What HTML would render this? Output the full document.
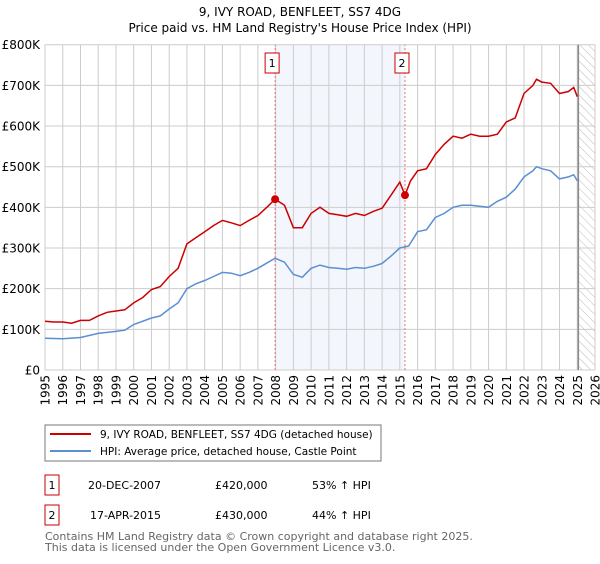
<!DOCTYPE html>
<html><head><meta charset="utf-8"><style>
body{margin:0;background:#fff;font-family:"DejaVu Sans","Liberation Sans",sans-serif;}
svg text{font-family:"DejaVu Sans","Liberation Sans",sans-serif;}
</style></head><body>
<svg id="c" width="600" height="560" xmlns="http://www.w3.org/2000/svg">
<defs><pattern id="hatch" width="6" height="6" patternUnits="userSpaceOnUse" patternTransform="rotate(-45)"><line x1="0" y1="0" x2="0" y2="6" stroke="#bbb" stroke-width="1"/></pattern></defs>
<text x="300" y="16" text-anchor="middle" font-size="12">9, IVY ROAD, BENFLEET, SS7 4DG</text>
<text x="300" y="32" text-anchor="middle" font-size="12">Price paid vs. HM Land Registry's House Price Index (HPI)</text>
<g id="plot"></g>
<rect x="45" y="425" width="336" height="36" fill="#fff" stroke="#777"/>
<line x1="50" y1="434" x2="91" y2="434" stroke="#cc0000" stroke-width="2"/>
<text x="100" y="438" font-size="10.5">9, IVY ROAD, BENFLEET, SS7 4DG (detached house)</text>
<line x1="50" y1="451" x2="91" y2="451" stroke="#5b8fd0" stroke-width="2"/>
<text x="100" y="455" font-size="10.5">HPI: Average price, detached house, Castle Point</text>
<rect x="45" y="475" width="14" height="20" fill="#fff" stroke="#cc0000"/>
<text x="52" y="489" font-size="11" text-anchor="middle">1</text>
<text x="88" y="489" font-size="11">20-DEC-2007</text>
<text x="215" y="489" font-size="11">£420,000</text>
<text x="312" y="489" font-size="11">53% ↑ HPI</text>
<rect x="45" y="505" width="14" height="20" fill="#fff" stroke="#cc0000"/>
<text x="52" y="519" font-size="11" text-anchor="middle">2</text>
<text x="90" y="519" font-size="11">17-APR-2015</text>
<text x="215" y="519" font-size="11">£430,000</text>
<text x="312" y="519" font-size="11">44% ↑ HPI</text>
<text x="45" y="540" font-size="11" fill="#666">Contains HM Land Registry data © Crown copyright and database right 2025.</text>
<text x="45" y="551" font-size="11" fill="#666">This data is licensed under the Open Government Licence v3.0.</text>
</svg>
<script>
const yTicks=[0,100,200,300,400,500,600,700,800];
const yTickLabels=["£0","£100K","£200K","£300K","£400K","£500K","£600K","£700K","£800K"];
const xYears=[1995,1996,1997,1998,1999,2000,2001,2002,2003,2004,2005,2006,2007,2008,2009,2010,2011,2012,2013,2014,2015,2016,2017,2018,2019,2020,2021,2022,2023,2024,2025,2026];
const priceT=[1995,1995.5,1996,1996.5,1997,1997.5,1998,1998.5,1999,1999.5,2000,2000.5,2001,2001.5,2002,2002.5,2003,2003.5,2004,2004.5,2005,2005.5,2006,2006.5,2007,2007.5,2007.97,2008.5,2009,2009.5,2010,2010.5,2011,2011.5,2012,2012.5,2013,2013.5,2014,2014.5,2015,2015.29,2015.6,2016,2016.5,2017,2017.5,2018,2018.5,2019,2019.5,2020,2020.5,2021,2021.5,2022,2022.5,2022.7,2023,2023.5,2024,2024.5,2024.8,2025];
const priceV=[120,118,118,115,122,122,133,142,145,148,165,178,198,205,230,250,310,325,340,355,368,362,355,368,380,400,420,405,350,350,385,400,385,382,378,385,380,390,398,430,462,430,465,490,495,530,555,575,570,580,575,575,580,610,620,680,700,715,708,705,680,685,695,672];
const hpiT=[1995,1996,1997,1998,1999,1999.5,2000,2001,2001.5,2002,2002.5,2003,2003.5,2004,2004.5,2005,2005.5,2006,2006.5,2007,2007.97,2008.5,2009,2009.5,2010,2010.5,2011,2011.5,2012,2012.5,2013,2013.5,2014,2014.5,2015,2015.5,2016,2016.5,2017,2017.5,2018,2018.5,2019,2020,2020.5,2021,2021.5,2022,2022.5,2022.7,2023,2023.5,2024,2024.5,2024.8,2025];
const hpiV=[78,77,80,90,95,98,112,128,133,150,165,200,212,220,230,240,238,232,240,250,275,265,235,228,250,258,252,250,248,252,250,255,262,280,300,305,340,345,375,385,400,405,405,400,415,425,445,475,490,500,495,490,470,475,480,465];
const saleT=[2007.97,2015.29];
const saleV=[420,430];
const saleLabels=["1","2"];

const X=t=>45+(t-1995)*(550/31);
const Y=v=>370-v*(325.3/800);
const NS="http://www.w3.org/2000/svg";
const g=document.getElementById('plot');
function mk(tag,attrs,name,parent){const e=document.createElementNS(NS,tag);for(const k in attrs)e.setAttribute(k,attrs[k]);


(parent||g).appendChild(e);return e;}
mk('rect',{x:X(saleT[0]),y:Y(800),width:X(saleT[1])-X(saleT[0]),height:Y(0)-Y(800),fill:'#eef3fc',opacity:0.7},'ownership-shade');
mk('rect',{x:X(2025.06),y:Y(800),width:X(2026)-X(2025.06),height:Y(0)-Y(800),fill:'url(#hatch)'},'forecast-hatch');
xYears.forEach(y=>{mk('line',{x1:X(y),x2:X(y),y1:Y(0),y2:Y(800),stroke:'#ccc'},'x-gridline');
const t=mk('text',{x:0,y:0,'font-size':12,'text-anchor':'end',transform:`translate(${X(y)+4.5},375) rotate(-90)`},'x-tick-label');t.textContent=y;});
yTicks.forEach((v,i)=>{mk('line',{x1:X(1995),x2:X(2026),y1:Y(v),y2:Y(v),stroke:'#ccc'},'y-gridline');
const t=mk('text',{x:40,y:Y(v)+4.5,'font-size':12,'text-anchor':'end'},'y-tick-label');t.textContent=yTickLabels[i];});
mk('line',{x1:X(2025.06),x2:X(2025.06),y1:Y(0),y2:Y(800),stroke:'#888','stroke-width':1.5},'data-end-line');
saleT.forEach((t,i)=>{mk('line',{x1:X(t),x2:X(t),y1:Y(0),y2:Y(800),stroke:'#f07070','stroke-dasharray':'2,2'},'sale-marker-line');
mk('rect',{x:X(t)-10,y:53,width:14,height:20,fill:'#fff',stroke:'#cc0000'},'sale-marker-badge');
const tx=mk('text',{x:X(t)-3,y:67,'font-size':11,'text-anchor':'middle'},'sale-marker-label');tx.textContent=saleLabels[i];});
const pts=(T,V)=>T.map((t,i)=>X(t).toFixed(1)+','+Y(V[i]).toFixed(1)).join(' ');
mk('polyline',{points:pts(hpiT,hpiV),fill:'none',stroke:'#5b8fd0','stroke-width':1.5},'hpi-line');
mk('polyline',{points:pts(priceT,priceV),fill:'none',stroke:'#cc0000','stroke-width':1.5},'price-line');
saleT.forEach((t,i)=>mk('circle',{cx:X(t),cy:Y(saleV[i]),r:4,fill:'#cc0000'},'sale-point'));
</script>
</body></html>
